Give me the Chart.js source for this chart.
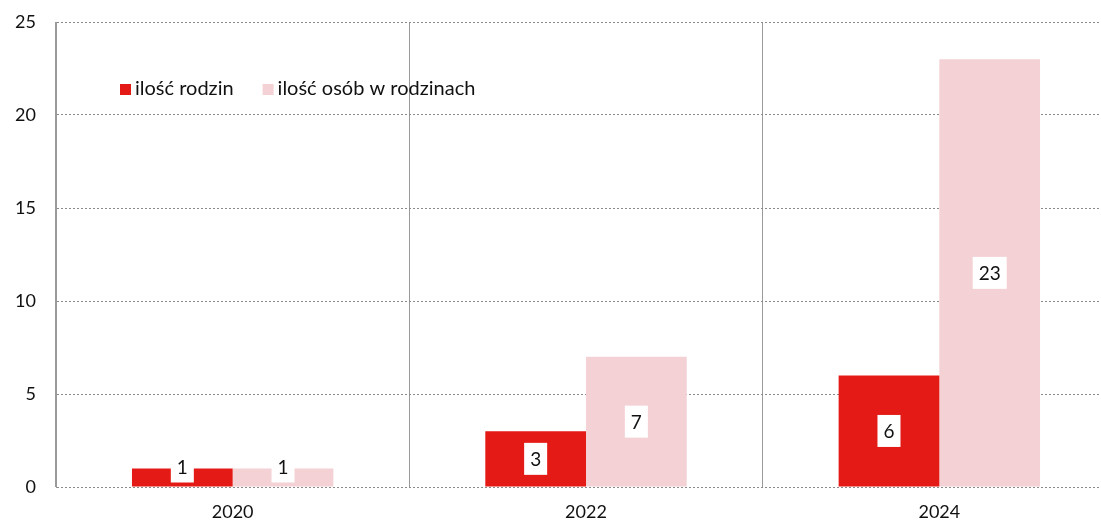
<!DOCTYPE html>
<html>
<head>
<meta charset="utf-8">
<script src="https://cdn.jsdelivr.net/npm/chart.js@4/dist/chart.umd.min.js"></script>
<style>
  html, body { margin: 0; padding: 0; background: #fff; overflow: hidden; }
  #wrap { width: 1116px; height: 522px; }
</style>
</head>
<body>
<div id="wrap"><canvas id="chart" width="1116" height="522"></canvas></div>
<script>
const years = ["2020", "2022", "2024"];
const families = [1, 3, 6];
const people = [1, 7, 23];
const yTicks = [0, 5, 10, 15, 20, 25];

const red = "#e41a16";
const pink = "#f3d1d4";
const font = "Lato, 'Open Sans', sans-serif";

// legend drawn inside plot area, top-left
const insideLegend = {
  id: "insideLegend",
  afterDraw(chart) {
    const ctx = chart.ctx;
    let x = 120;
    const y = 89;
    ctx.save();
    ctx.font = "20px " + font;
    ctx.textBaseline = "middle";
    chart.data.datasets.forEach(ds => {
      ctx.fillStyle = ds.backgroundColor;
      ctx.fillRect(x, y - 5, 11, 11);
      ctx.fillStyle = "#111";
      ctx.fillText(ds.label, x + 15, y);
      x += 15 + ctx.measureText(ds.label).width + 29;
    });
    ctx.restore();
  }
};

// white boxed value labels in the bars
const boxLabels = {
  id: "boxLabels",
  afterDatasetsDraw(chart) {
    const ctx = chart.ctx;
    ctx.save();
    ctx.font = "19px " + font;
    ctx.textAlign = "center";
    ctx.textBaseline = "middle";
    chart.data.datasets.forEach((ds, di) => {
      chart.getDatasetMeta(di).data.forEach((bar, i) => {
        const txt = String(ds.data[i]);
        const w = ctx.measureText(txt).width + 12, h = 32;
        let cy = (bar.y + bar.base) / 2;
        cy = Math.min(cy, bar.base - 4 - h / 2);
        ctx.fillStyle = "#fff";
        ctx.fillRect(bar.x - w / 2, cy - h / 2, w, h);
        ctx.fillStyle = "#111";
        ctx.fillText(txt, bar.x, cy + 1);
      });
    });
    ctx.restore();
  }
};

new Chart(document.getElementById("chart").getContext("2d"), {
  type: "bar",
  data: {
    labels: years,
    datasets: [
      { label: "ilość rodzin", data: families, backgroundColor: red },
      { label: "ilość osób w rodzinach", data: people, backgroundColor: pink }
    ]
  },
  options: {
    responsive: false,
    animation: false,
    layout: { padding: { left: 2, top: 22, right: 0, bottom: 0 } },
    datasets: { bar: { categoryPercentage: 0.57, barPercentage: 1.0 } },
    plugins: { legend: { display: false }, tooltip: { enabled: false } },
    scales: {
      x: {
        grid: { color: "#9a9a9a", lineWidth: 1, drawTicks: false },
        border: { display: false },
        ticks: { color: "#111", font: { family: font, size: 18 }, padding: 14 },
        afterFit: s => { s.height = 35; }
      },
      y: {
        min: 0,
        max: 25,
        afterBuildTicks: s => { s.ticks = yTicks.map(v => ({ value: v })); },
        grid: { color: "#8a8a8a", lineWidth: 1, drawTicks: false },
        border: { display: true, color: "#9a9a9a", dash: [2, 2] },
        ticks: { color: "#111", font: { family: font, size: 18 }, padding: 20 },
        afterFit: s => { s.width = 54; s.paddingTop = 0; s.paddingBottom = 0; }
      }
    }
  },
  plugins: [insideLegend, boxLabels]
});
</script>
</body>
</html>
